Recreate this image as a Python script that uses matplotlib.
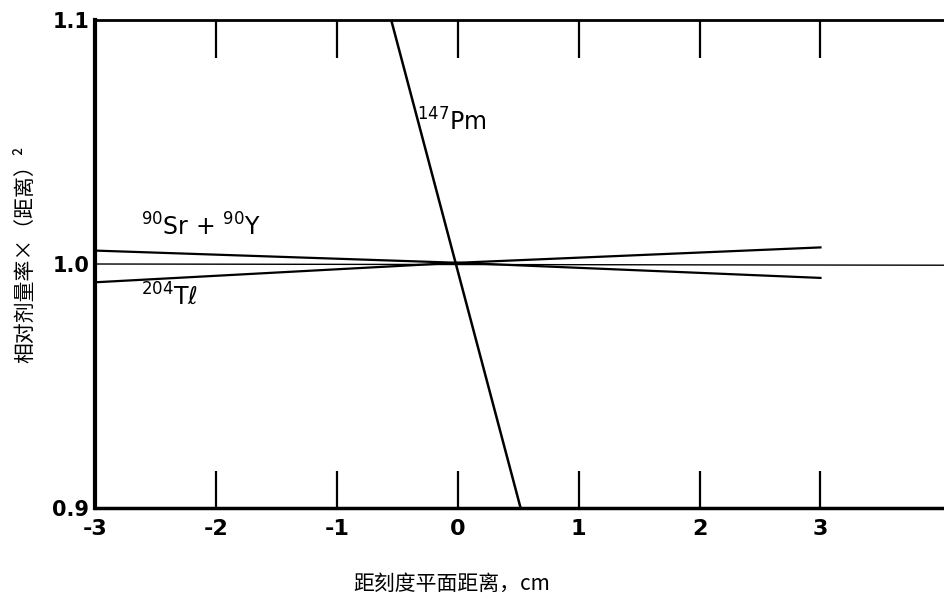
import matplotlib.pyplot as plt
import numpy as np

plt.rcParams['font.family'] = ['DejaVu Sans', 'Noto Sans CJK SC']

# data
sr_x = [-3, 0, 3]
sr_y = [1.0055, 1.0005, 1.0068]
tl_x = [-3, 0, 3]
tl_y = [0.9925, 1.0005, 0.9943]
ref_x = [-3, 4.1]
ref_y = [1.0, 0.9995]
pm_x = [-0.55, 0.52]
pm_y = [1.1, 0.9]

xticks = [-3, -2, -1, 0, 1, 2, 3]
xlabels = ['-3', '-2', '-1', '0', '1', '2', '3']
yticks = [0.9, 1.0, 1.1]
ylabels = ['0.9', '1.0', '1.1']

fig = plt.figure(figsize=(9.45, 5.94), dpi=100)
ax = fig.add_axes([0.1005, 0.1448, 0.8995, 0.8215])

ax.plot(sr_x, sr_y, color='k', lw=1.6)
ax.plot(tl_x, tl_y, color='k', lw=1.6)
ax.plot(ref_x, ref_y, color='k', lw=1.0)
ax.plot(pm_x, pm_y, color='k', lw=1.8)

ax.text(-2.62, 1.0115, r'$^{90}$Sr + $^{90}$Y', fontsize=17)
ax.text(-2.62, 0.9835, r'$^{204}$T$\ell$', fontsize=17)
ax.text(-0.34, 1.0545, r'$^{147}$Pm', fontsize=17)

ax.set_xlim(-3, 4.03)
ax.set_ylim(0.9, 1.1)

ax.spines['right'].set_visible(False)
ax.spines['left'].set_linewidth(3)
ax.spines['bottom'].set_linewidth(2.5)
ax.spines['top'].set_linewidth(2)

ax.set_xticks(xticks)
ax.set_xticklabels(xlabels, fontsize=16, fontweight='semibold')
ax.set_yticks(yticks)
ax.set_yticklabels(ylabels, fontsize=15, fontweight='bold')
ax.tick_params(axis='x', direction='in', length=27, width=1.6, top=True, pad=8)
ax.tick_params(axis='y', length=0, pad=4)

ax.set_xlabel('距刻度平面距离，cm', fontsize=15, family=['Noto Sans CJK SC', 'DejaVu Sans'],
              labelpad=24, x=0.42)
ax.set_ylabel('相对剂量率×（距离）²', fontsize=15, family=['Noto Sans CJK SC', 'DejaVu Sans'],
              labelpad=12, y=0.52)

fig.savefig('out.png', dpi=100)
